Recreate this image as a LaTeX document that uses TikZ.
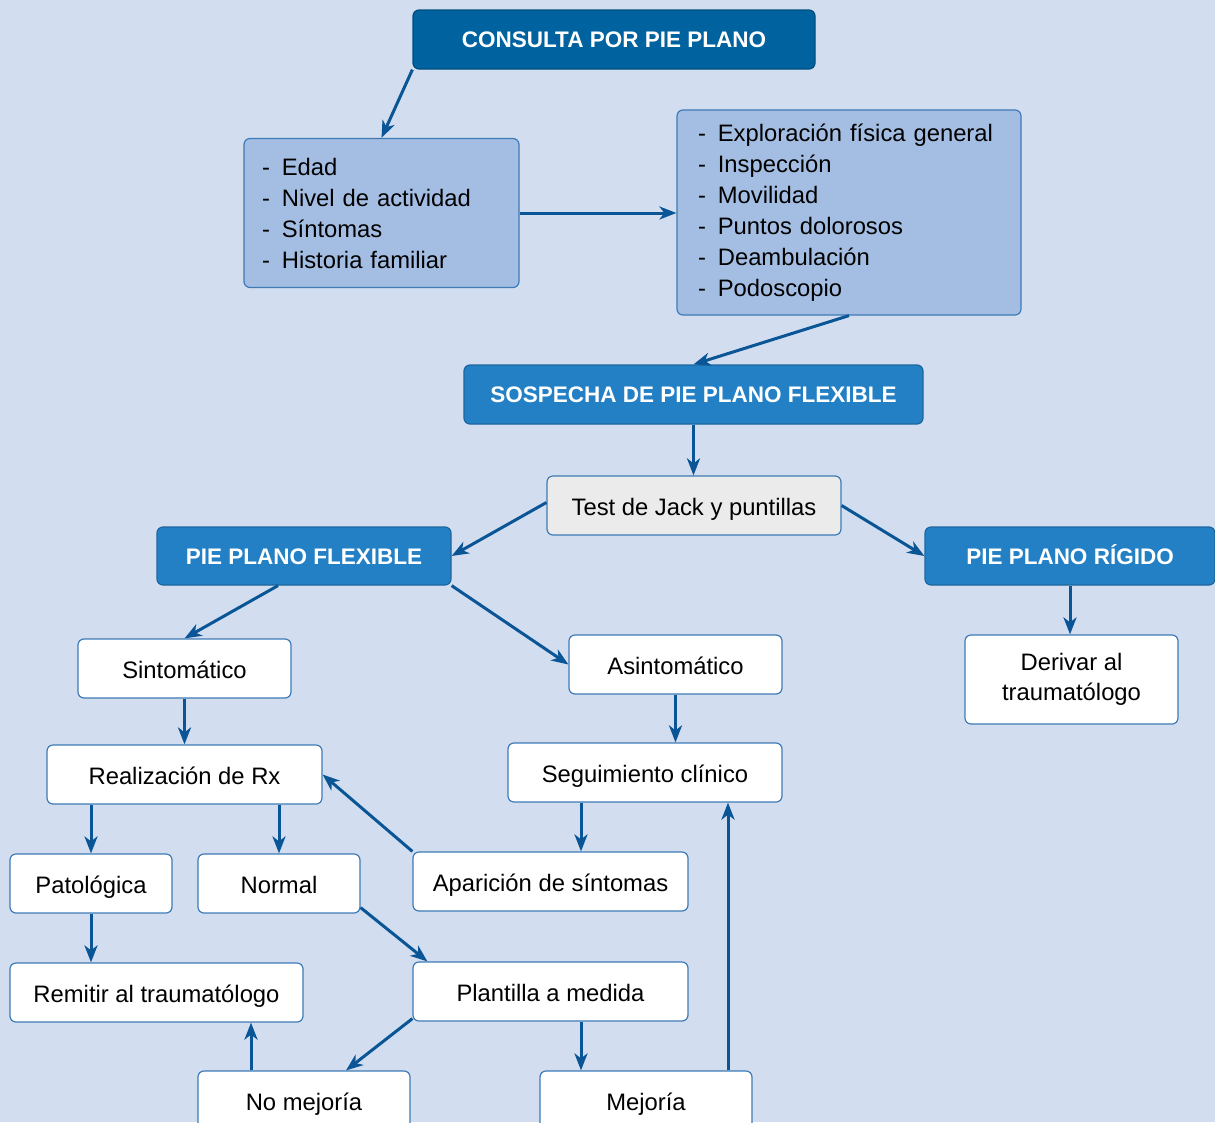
\documentclass[tikz,border=0pt]{standalone}
\usepackage{fontspec}
\setmainfont{Liberation Sans}
\usepackage{xcolor}
\usepackage{tikz}
\usetikzlibrary{positioning,calc,arrows.meta}

\definecolor{fondo}{RGB}{210,222,240}
\definecolor{azuloscuro}{RGB}{0,98,158}
\definecolor{azulmedio}{RGB}{35,128,197}
\definecolor{azullista}{RGB}{164,190,227}
\definecolor{grisclaro}{RGB}{235,235,235}
\definecolor{borde}{RGB}{62,122,182}
\definecolor{flecha}{RGB}{10,85,150}

\begin{document}
\begin{tikzpicture}[x=1pt,y=-1pt,
	caja/.style={draw=borde,line width=1.2pt,rounded corners=6pt,fill=white,minimum height=59pt,align=center,font=\fontsize{23.8}{30}\selectfont},
	unalinea/.style={text height=21pt,text depth=1pt},
	titulo/.style={caja,text=white,text height=18pt,text depth=2pt,font=\bfseries\fontsize{22.5}{28}\selectfont},
	lista/.style={caja,fill=azullista,align=left,font=\fontsize{23.8}{31}\selectfont},
	enlace/.style={-{Stealth[length=17pt,width=13pt,inset=5pt]},line width=3pt,draw=flecha}]
			\clip (0,0) rectangle (1215,1122);
			\fill[fondo] (0,0) rectangle (1215,1122);
			
			\node[titulo,fill=azuloscuro,draw=azuloscuro!80!black,minimum width=402pt] (consulta) at (614,39.5) {CONSULTA POR PIE PLANO};
			
			\node[lista,minimum width=275pt,minimum height=149pt,text width=239pt,inner xsep=18pt] (datos) at (381.5,213) {-\hspace{0.5em}Edad\\-\hspace{0.5em}Nivel de actividad\\-\hspace{0.5em}Síntomas\\-\hspace{0.5em}Historia familiar};
			\node[lista,minimum width=344pt,minimum height=205pt,text width=302pt,inner xsep=21pt] (explora) at (849,212.5) {-\hspace{0.5em}Exploración física general\\-\hspace{0.5em}Inspección\\-\hspace{0.5em}Movilidad\\-\hspace{0.5em}Puntos dolorosos\\-\hspace{0.5em}Deambulación\\-\hspace{0.5em}Podoscopio};
			
			\draw[enlace] (consulta.south west)--(datos.north);
			\draw[enlace] (datos.east)--(datos.east -| explora.west);
			
			\node[titulo,fill=azulmedio,draw=azulmedio!80!black,minimum width=459pt] (sospecha) at (693.5,394.5) {SOSPECHA DE PIE PLANO FLEXIBLE};
			\node[caja,unalinea,fill=grisclaro,minimum width=294pt] (test) at (694,505.5) {Test de Jack y puntillas};
			
			\draw[enlace] (explora.south)--(sospecha.north);
			\draw[enlace] (sospecha.south)--(sospecha.south |- test.north);
			
			\node[titulo,fill=azulmedio,draw=azulmedio!80!black,minimum width=294pt,minimum height=58pt] (flexible) at (304,556) {PIE PLANO FLEXIBLE};
			\node[titulo,fill=azulmedio,draw=azulmedio!80!black,minimum width=290pt,minimum height=58pt] (rigido) at (1070,556) {PIE PLANO RÍGIDO};
			\node[caja,minimum width=213pt,minimum height=89pt] (derivar) at (1071.5,679.5) {Derivar al\\traumatólogo};
			
			\draw[enlace] ([yshift=3pt]test.west)--(flexible.east);
			\draw[enlace] (test.east)--(rigido.west);
			\draw[enlace] (rigido.south)--(rigido.south |- derivar.north);
			
			\node[caja,unalinea,minimum width=213pt] (sinto) at (184.5,668.5) {Sintomático};
			\node[caja,unalinea,minimum width=213pt] (asinto) at (675.5,664.5) {Asintomático};
			\node[caja,unalinea,minimum width=275pt] (rx) at (184.5,774.5) {Realización de Rx};
			\node[caja,unalinea,minimum width=274pt] (seguim) at (645,772.5) {Seguimiento clínico};
			
			\draw[enlace] ([xshift=-26pt]flexible.south)--(sinto.north);
			\draw[enlace] (flexible.south east)--(asinto.west);
			\draw[enlace] (sinto.south)--(rx.north);
			\draw[enlace] (asinto.south)--(asinto.south |- seguim.north);
			
			\node[caja,unalinea,minimum width=162pt] (patolog) at (91,883.5) {Patológica};
			\node[caja,unalinea,minimum width=162pt] (normal) at (279,883.5) {Normal};
			\node[caja,unalinea,minimum width=275pt] (aparic) at (550.5,881.5) {Aparición de síntomas};
			
			\draw[enlace] (patolog.north |- rx.south)--(patolog.north);
			\draw[enlace] (normal.north |- rx.south)--(normal.north);
			\draw[enlace] (aparic.north west)--(rx.east);
			\draw[enlace] ([xshift=-64pt]seguim.south)--([xshift=30.5pt]aparic.north);
			
			\node[caja,unalinea,minimum width=293pt] (remitir) at (156.5,992.5) {Remitir al traumatólogo};
			\node[caja,unalinea,minimum width=275pt] (plantilla) at (550.5,991.5) {Plantilla a medida};
			
			\draw[enlace] (patolog.south)--(patolog.south |- remitir.north);
			\draw[enlace] ([yshift=6pt]normal.south east)--([xshift=15pt]plantilla.north west);
			
			\node[caja,unalinea,minimum width=212pt] (nomejor) at (304,1100.5) {No mejoría};
			\node[caja,unalinea,minimum width=212pt] (mejor) at (646,1100.5) {Mejoría};
			
			\draw[enlace] ([yshift=3pt]plantilla.south west)--([xshift=42pt]nomejor.north);
			\draw[enlace] ([xshift=30.5pt]plantilla.south)--([xshift=-65pt]mejor.north);
			\draw[enlace] ([xshift=-53pt]nomejor.north)--([xshift=94.5pt]remitir.south);
			\draw[enlace] ([xshift=82pt]mejor.north)--([xshift=83pt]seguim.south);
		\end{tikzpicture}
\end{document}
